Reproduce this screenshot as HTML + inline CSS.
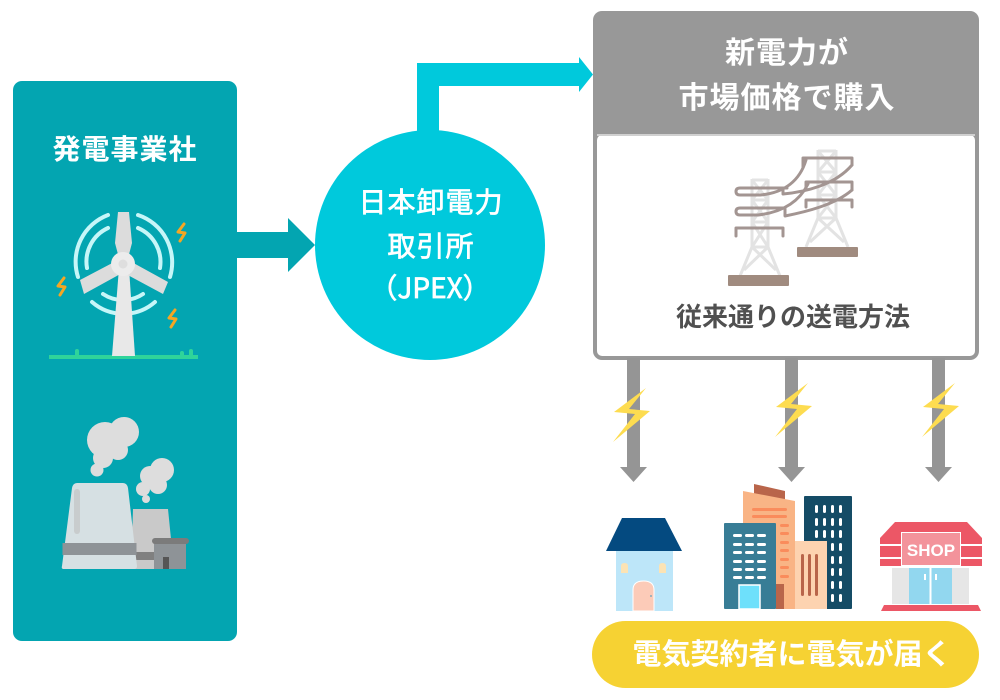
<!DOCTYPE html>
<html><head><meta charset="utf-8">
<style>
html,body{margin:0;padding:0;background:#fff;}
svg{display:block;}
text{font-family:"Liberation Sans","Noto Sans CJK JP",sans-serif;}
.jp{font-family:"Noto Sans CJK JP","Liberation Sans",sans-serif;}
</style></head>
<body>
<svg width="1000" height="700" viewBox="0 0 1000 700" xmlns="http://www.w3.org/2000/svg">
<rect width="1000" height="700" fill="#fff"/>

<!-- Left panel -->
<rect x="13" y="81" width="224" height="560" rx="9" fill="#03a5b1"/>
<text x="125" y="159" text-anchor="middle" font-size="28" font-weight="700" fill="#fff" letter-spacing="1" class="jp">発電事業社</text>

<!-- Wind turbine -->
<g fill="none" stroke="#c6f6f8" stroke-width="4" stroke-linecap="round">
  <path d="M108,215 A50,50 0 0 0 78,277"/>
  <path d="M108,228 A37,37 0 0 0 87,268"/>
  <path d="M138,215 A50,50 0 0 1 170,277"/>
  <path d="M138,228 A37,37 0 0 1 160,268"/>
  <path d="M92,302 A48,48 0 0 0 155,302"/>
  <path d="M103,294 A36,36 0 0 0 143,294"/>
</g>
<rect x="49" y="355" width="149" height="4" fill="#2fd49a"/>
<rect x="75" y="349" width="4" height="8" rx="2" fill="#2fd49a"/>
<rect x="180" y="351" width="4" height="6" rx="2" fill="#2fd49a"/>
<rect x="189" y="349" width="4" height="8" rx="2" fill="#2fd49a"/>
<polygon points="119,268 129,268 135,356 112,356" fill="#e8e8e8"/>
<polygon points="118,212 129,212 132,243 127,262 120,262 115,243" fill="#dcdcdc"/>
<polygon points="118,260 80,280 84,294 124,272" fill="#dcdcdc"/>
<polygon points="128,260 168,282 163,294 122,272" fill="#dcdcdc"/>
<circle cx="123" cy="264" r="12" fill="#ececec"/>
<circle cx="123" cy="264" r="4.5" fill="#dedede"/>
<g fill="none" stroke="#f5a623" stroke-width="3" stroke-linecap="round" stroke-linejoin="round">
  <polyline points="184,224 178,232 185,233 180,241"/>
  <polyline points="64,278 58,286 65,287 60,295"/>
  <polyline points="175,310 169,318 176,319 171,327"/>
</g>

<!-- Factory -->
<g fill="#dddddd">
  <circle cx="105" cy="440" r="18"/>
  <circle cx="124" cy="432" r="15"/>
  <circle cx="118" cy="450" r="10"/>
  <circle cx="103" cy="458" r="10"/>
  <circle cx="97" cy="470" r="6.5"/>
  <circle cx="150" cy="476" r="10"/>
  <circle cx="162" cy="470" r="12"/>
  <circle cx="158" cy="485" r="9"/>
  <circle cx="143" cy="489" r="7"/>
  <circle cx="146" cy="499" r="4"/>
</g>
<polygon points="133,509 168,509 174,569 131,569" fill="#c9c9c9"/>
<rect x="131" y="552" width="43" height="8" fill="#808080"/>
<path d="M77,483 L123,483 Q127,483 128,488 L137,566 Q137,569 134,569 L64,569 Q61,569 62,566 L72,488 Q73,483 77,483 Z" fill="#d6e0e3"/>
<rect x="62.5" y="543" width="74" height="12" fill="#8e9397"/>
<rect x="74" y="489" width="6" height="45" rx="3" fill="#c8cccd"/>
<rect x="154" y="540" width="32" height="29" fill="#8e9397"/>
<rect x="152" y="538" width="37" height="6" rx="3" fill="#7b7b7b"/>
<rect x="163" y="557" width="6" height="12" fill="#555"/>

<!-- Arrow panel -> circle -->
<polygon points="237,232 288,232 288,218 315,245 288,272 288,258 237,258" fill="#03a5b1"/>

<!-- Arrow circle -> box -->
<polygon points="417,140 417,63 579,63 579,57 593,74.5 579,92 579,86 439,86 439,140" fill="#00c9dc"/>

<!-- Circle -->
<circle cx="430" cy="245" r="115" fill="#00c9dc"/>
<g fill="#fff" stroke="#fff" stroke-width="0.7" class="jp" font-size="28">
<text x="431" y="212" text-anchor="middle" letter-spacing="1" class="jp">日本卸電力</text>
<text x="431" y="256" text-anchor="middle" letter-spacing="1" class="jp">取引所</text>
<text x="430" y="298" text-anchor="middle" class="jp">（JPEX）</text>
</g>

<!-- Right box -->
<rect x="593" y="11" width="386" height="349" rx="9" fill="#989898"/>
<rect x="597" y="135" width="378" height="221" rx="5" fill="#fff"/>
<rect x="597" y="134" width="378" height="2" fill="#d0d0d0"/>
<text x="787" y="63" text-anchor="middle" font-size="30" font-weight="700" fill="#fff" letter-spacing="1" class="jp">新電力が</text>
<text x="787" y="108" text-anchor="middle" font-size="30" font-weight="700" fill="#fff" letter-spacing="1" class="jp">市場価格で購入</text>

<!-- Transmission towers -->
<g fill="none" stroke="#e3e3e3" stroke-width="3" stroke-linejoin="round">
  <path d="M752,179 L752,247 L740,276 M768,179 L768,247 L780,276"/>
  <path d="M752,180 H768 M752,180 L768,200 M768,180 L752,200 M752,200 H768 L752,222 M752,200 L768,222 M752,222 H768 L752,247 M752,222 L768,247 M752,247 H768 L744,270 M752,247 L776,270"/>
  <path d="M818,150 L818,218 L806,247 M836,150 L836,218 L848,247"/>
  <path d="M818,151 H836 M818,151 L836,172 M836,151 L818,172 M818,172 H836 L818,195 M818,172 L836,195 M818,195 H836 L818,218 M818,195 L836,218 M818,218 H836 L810,242 M818,218 L844,242"/>
</g>
<rect x="728" y="275" width="61" height="11" rx="1" fill="#a08b7f"/>
<rect x="797" y="247" width="61" height="10" rx="1" fill="#a08b7f"/>
<g fill="none" stroke="#a39592" stroke-width="3" stroke-linecap="round" stroke-linejoin="round">
  <path d="M787,188 H740 Q736,188 736,191.5 Q736,195 740,195 H760"/>
  <path d="M785,208 H740 Q736,208 736,211.5 Q736,215 740,215 H758"/>
  <path d="M736,236 V228 H783 V236"/>
  <path d="M803,167 V158 H852 V165"/>
  <path d="M806,190 V182 H852 V190"/>
  <path d="M806,207 V200 H852 V207"/>
  <path d="M760,195 C785,193 800,180 806,160"/>
  <path d="M758,215 C785,212 800,200 808,184"/>
  <path d="M852,165 C835,185 805,192 783,194 L783,188"/>
  <path d="M852,190 C835,205 805,212 785,216 L785,208"/>
</g>
<text x="793" y="326" text-anchor="middle" font-size="26" font-weight="700" fill="#505050" class="jp">従来通りの送電方法</text>

<!-- Down arrows -->
<g fill="#959595">
  <rect x="627" y="358" width="13" height="110"/>
  <polygon points="620,467 647,467 633.5,482"/>
  <rect x="785" y="358" width="13" height="110"/>
  <polygon points="778,467 805,467 791.5,482"/>
  <rect x="932" y="358" width="13" height="110"/>
  <polygon points="925,467 952,467 938.5,482"/>
</g>
<!-- Yellow bolts -->
<g fill="#fddc50">
  <polygon points="646,388 614,412 635,414 613,442 650,411 629,409"/>
  <polygon points="808,383 776,407 797,409 775,437 812,406 791,404"/>
  <polygon points="955,383 923,407 944,409 922,437 959,406 938,404"/>
</g>

<!-- House -->
<polygon points="622,518 665,518 682,551 606,551" fill="#044a80"/>
<rect x="616" y="551" width="57" height="60" fill="#bde6f9"/>
<path d="M621,573 V566 Q621,563 624.5,563 Q628,563 628,566 V573 Z" fill="#fce3b4"/>
<path d="M659,573 V566 Q659,563 662.5,563 Q666,563 666,566 V573 Z" fill="#fce3b4"/>
<path d="M633,611 V590 Q633,581 643.5,581 Q654,581 654,590 V611 Z" fill="#fccbb8" stroke="#fff" stroke-width="1"/>
<circle cx="651" cy="596" r="1" fill="#8ab"/>

<!-- Offices -->
<polygon points="754,484 785,491 785,500 754,494" fill="#b9654a"/>
<polygon points="743,491 795,501 795,609 743,609" fill="#f9b485"/>
<g fill="#fa8c5c">
  <rect x="752" y="508" width="35" height="3" rx="1.5"/>
  <rect x="752" y="515" width="35" height="3" rx="1.5"/>
  <rect x="780" y="524" width="9" height="3" rx="1.5"/>
  <rect x="780" y="532" width="9" height="3" rx="1.5"/>
  <rect x="780" y="541" width="9" height="3" rx="1.5"/>
  <rect x="780" y="549" width="9" height="3" rx="1.5"/>
  <rect x="780" y="558" width="9" height="3" rx="1.5"/>
  <rect x="780" y="566" width="9" height="3" rx="1.5"/>
  <rect x="780" y="575" width="9" height="3" rx="1.5"/>
</g>
<rect x="776" y="584" width="8" height="25" fill="#b9654a"/>
<rect x="804" y="496" width="48" height="113" rx="1" fill="#154c66"/>
<g fill="#fff">
  <rect x="815" y="505" width="3" height="8" rx="1.5"/>
  <rect x="823" y="505" width="3" height="8" rx="1.5"/>
  <rect x="831" y="505" width="3" height="8" rx="1.5"/>
  <rect x="839" y="505" width="3" height="8" rx="1.5"/>
  <rect x="815" y="518" width="3" height="8" rx="1.5"/>
  <rect x="823" y="518" width="3" height="8" rx="1.5"/>
  <rect x="831" y="518" width="3" height="8" rx="1.5"/>
  <rect x="839" y="518" width="3" height="8" rx="1.5"/>
  <rect x="815" y="530" width="3" height="8" rx="1.5"/>
  <rect x="823" y="530" width="3" height="8" rx="1.5"/>
  <rect x="831" y="530" width="3" height="8" rx="1.5"/>
  <rect x="839" y="530" width="3" height="8" rx="1.5"/>
  <rect x="831" y="543" width="3" height="8" rx="1.5"/>
  <rect x="839" y="543" width="3" height="8" rx="1.5"/>
  <rect x="831" y="556" width="3" height="8" rx="1.5"/>
  <rect x="839" y="556" width="3" height="8" rx="1.5"/>
  <rect x="831" y="568" width="3" height="8" rx="1.5"/>
  <rect x="839" y="568" width="3" height="8" rx="1.5"/>
  <rect x="831" y="581" width="3" height="8" rx="1.5"/>
  <rect x="839" y="581" width="3" height="8" rx="1.5"/>
  <rect x="831" y="594" width="3" height="8" rx="1.5"/>
  <rect x="839" y="594" width="3" height="8" rx="1.5"/>
</g>
<rect x="795" y="541" width="32" height="68" fill="#fdd3b0"/>
<g fill="#b9654a">
  <rect x="801" y="554" width="3" height="42" rx="1.5"/>
  <rect x="808" y="554" width="3" height="42" rx="1.5"/>
  <rect x="815" y="554" width="3" height="42" rx="1.5"/>
</g>
<rect x="724" y="523" width="52" height="86" rx="1" fill="#387d96"/>
<g fill="#fff">
  <rect x="733" y="534" width="9" height="3" rx="1.5"/><rect x="745" y="534" width="9" height="3" rx="1.5"/><rect x="757" y="534" width="9" height="3" rx="1.5"/>
  <rect x="733" y="543" width="9" height="3" rx="1.5"/><rect x="745" y="543" width="9" height="3" rx="1.5"/><rect x="757" y="543" width="9" height="3" rx="1.5"/>
  <rect x="733" y="551" width="9" height="3" rx="1.5"/><rect x="745" y="551" width="9" height="3" rx="1.5"/><rect x="757" y="551" width="9" height="3" rx="1.5"/>
  <rect x="733" y="560" width="9" height="3" rx="1.5"/><rect x="745" y="560" width="9" height="3" rx="1.5"/><rect x="757" y="560" width="9" height="3" rx="1.5"/>
  <rect x="733" y="568" width="9" height="3" rx="1.5"/><rect x="745" y="568" width="9" height="3" rx="1.5"/><rect x="757" y="568" width="9" height="3" rx="1.5"/>
  <rect x="733" y="576" width="9" height="3" rx="1.5"/><rect x="745" y="576" width="9" height="3" rx="1.5"/><rect x="757" y="576" width="9" height="3" rx="1.5"/>
</g>
<rect x="739" y="585" width="21" height="24" fill="#6ee0fb" stroke="#fff" stroke-width="1.5"/>

<!-- Shop -->
<polygon points="895,522 967,522 982,538 880,538" fill="#ec5766"/>
<rect x="880" y="538" width="102" height="28" fill="#ec5766"/>
<rect x="880" y="544" width="102" height="2" fill="#fff"/>
<rect x="880" y="557" width="102" height="2" fill="#fff"/>
<rect x="901.5" y="532.5" width="59" height="33" fill="#f3939b" stroke="#fff" stroke-width="1"/>
<text x="931" y="556" text-anchor="middle" font-size="17" font-weight="700" fill="#fff">SHOP</text>
<rect x="892" y="568" width="77" height="36" fill="#e6e6e6"/>
<rect x="909" y="568" width="43" height="36" fill="#92d7ef"/>
<rect x="929.5" y="568" width="2" height="36" fill="#fff"/>
<rect x="924" y="574" width="2" height="6" fill="#fff"/>
<rect x="935" y="574" width="2" height="6" fill="#fff"/>
<polygon points="884,605 978,605 981,611 881,611" fill="#ec5766"/>

<!-- Yellow pill -->
<rect x="592" y="621" width="387" height="67" rx="33.5" fill="#f6d233"/>
<text x="792" y="664" text-anchor="middle" font-size="29" font-weight="700" fill="#fff" class="jp">電気契約者に電気が届く</text>
</svg>
</body></html>
